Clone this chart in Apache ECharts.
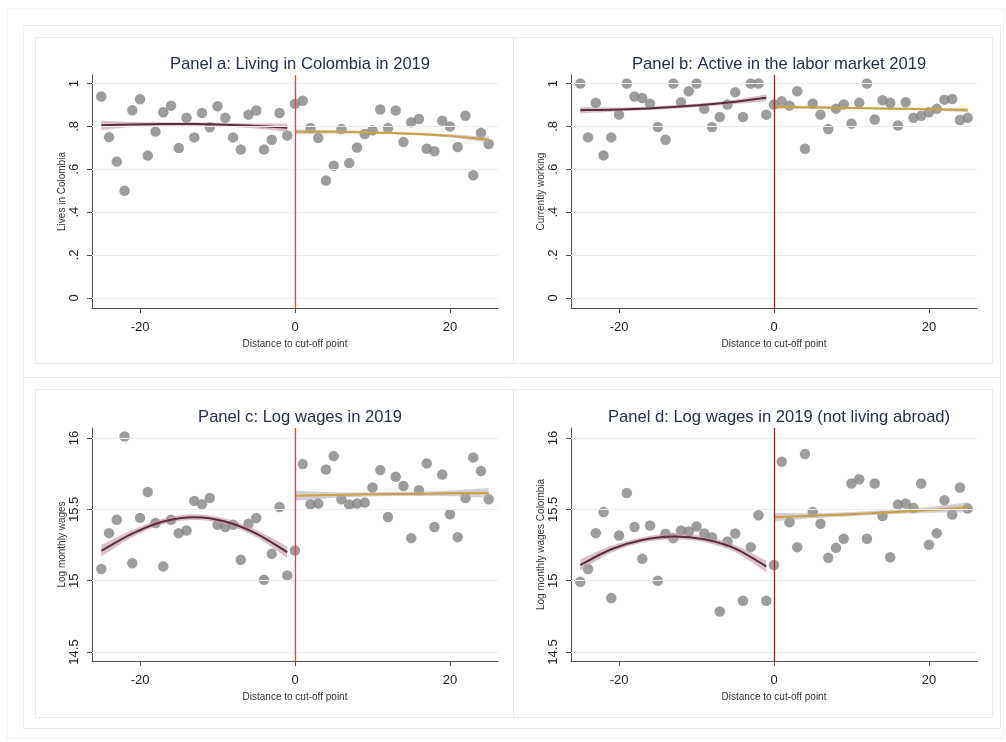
<!DOCTYPE html>
<html>
<head>
<meta charset="utf-8">
<script src="https://cdn.jsdelivr.net/npm/echarts@6/dist/echarts.min.js"></script>
<style>
  html, body { margin: 0; padding: 0; background: #ffffff; }
  #chart { width: 1006px; height: 742px; }
</style>
</head>
<body>
<div id="chart"></div>
<script>
// Distance to the cut-off point (bins)
const distance = [-25,-24,-23,-22,-21,-20,-19,-18,-17,-16,-15,-14,-13,-12,-11,-10,-9,-8,-7,-6,-5,-4,-3,-2,-1,
  0,1,2,3,4,5,6,7,8,9,10,11,12,13,14,15,16,17,18,19,20,21,22,23,24,25];

// Bin means
const livesInColombia = [0.94,0.75,0.636,0.50,0.875,0.927,0.664,0.776,0.866,0.897,0.699,0.84,0.749,0.863,0.796,0.894,0.84,0.749,0.692,0.855,0.874,0.692,0.738,0.863,0.758,
  0.906,0.92,0.793,0.746,0.548,0.617,0.788,0.629,0.702,0.765,0.782,0.879,0.793,0.874,0.727,0.819,0.835,0.696,0.684,0.827,0.80,0.704,0.85,0.572,0.77,0.718];
const currentlyWorking = [1.0,0.749,0.91,0.665,0.749,0.855,1.0,0.94,0.933,0.906,0.797,0.738,1.0,0.913,0.964,1.0,0.882,0.797,0.844,0.902,0.959,0.844,1.0,1.0,0.855,
  0.902,0.917,0.897,0.964,0.696,0.906,0.855,0.788,0.883,0.902,0.813,0.91,1.0,0.832,0.922,0.91,0.804,0.913,0.84,0.85,0.866,0.882,0.925,0.928,0.83,0.84];
const logWages = [15.082,15.333,15.427,16.01,15.122,15.44,15.622,15.404,15.10,15.427,15.333,15.352,15.559,15.535,15.58,15.392,15.376,15.392,15.146,15.399,15.439,15.007,15.188,15.516,15.037,
  15.211,15.817,15.535,15.54,15.779,15.873,15.57,15.533,15.54,15.547,15.653,15.775,15.446,15.728,15.664,15.298,15.634,15.822,15.376,15.744,15.465,15.305,15.58,15.864,15.768,15.57];
const logWagesColombia = [14.993,15.082,15.333,15.481,14.878,15.317,15.615,15.376,15.153,15.387,15.0,15.329,15.298,15.352,15.345,15.38,15.33,15.305,14.784,15.275,15.33,14.859,15.235,15.458,14.859,
  15.11,15.833,15.41,15.235,15.887,15.481,15.399,15.16,15.23,15.294,15.681,15.711,15.294,15.681,15.453,15.164,15.533,15.54,15.509,15.681,15.251,15.333,15.563,15.463,15.653,15.505];

// Quadratic fits with confidence bands, on each side of the cut-off
const fitXLeft = [-25,-21,-17,-13,-9,-5,-1];
const fitXRight = [0,5,10,15,20,25];

const fitLivesLeft = [0.805,0.809,0.811,0.811,0.808,0.802,0.794];
const ciLivesLeft = [0.022,0.012,0.008,0.008,0.008,0.012,0.02];
const fitLivesRight = [0.775,0.775,0.772,0.766,0.756,0.738];
const ciLivesRight = [0.012,0.008,0.006,0.006,0.008,0.014];

const fitWorkLeft = [0.876,0.878,0.883,0.891,0.901,0.915,0.934];
const ciWorkLeft = [0.015,0.01,0.008,0.008,0.008,0.01,0.016];
const fitWorkRight = [0.892,0.889,0.886,0.883,0.880,0.876];
const ciWorkRight = [0.01,0.006,0.005,0.005,0.006,0.01];

const fitWageLeft = [15.21,15.33,15.415,15.445,15.415,15.33,15.20];
const ciWageLeft = [0.04,0.025,0.02,0.02,0.02,0.025,0.04];
const fitWageRight = [15.595,15.60,15.605,15.608,15.612,15.615];
const ciWageRight = [0.035,0.02,0.015,0.015,0.02,0.035];

const fitWageColLeft = [15.11,15.22,15.285,15.31,15.29,15.225,15.10];
const ciWageColLeft = [0.04,0.025,0.02,0.02,0.02,0.025,0.04];
const fitWageColRight = [15.445,15.455,15.466,15.48,15.496,15.515];
const ciWageColRight = [0.03,0.018,0.015,0.015,0.02,0.035];

// Tick values and labels
const xTicks = [-20, 0, 20];
const xTickLabels = ['-20', '0', '20'];
const shareTicks = [0, 0.2, 0.4, 0.6, 0.8, 1];
const shareTickLabels = ['0', '.2', '.4', '.6', '.8', '1'];
const wageTicks = [14.5, 15, 15.5, 16];
const wageTickLabels = ['14.5', '15', '15.5', '16'];

const FONT = '"Liberation Sans", Arial, sans-serif';
const PLOT_W = 406, PLOT_H = 233;

const panels = [
  { title: 'Panel a: Living in Colombia in 2019', yName: 'Lives in Colombia', values: livesInColombia,
    ticks: shareTicks, labels: shareTickLabels, yMin: -0.047, yMax: 1.04, left: 92, top: 75, cut: '#ff3a3a',
    fitL: fitLivesLeft, ciL: ciLivesLeft, fitR: fitLivesRight, ciR: ciLivesRight },
  { title: 'Panel b: Active in the labor market 2019', yName: 'Currently working', values: currentlyWorking,
    ticks: shareTicks, labels: shareTickLabels, yMin: -0.047, yMax: 1.04, left: 571, top: 75, cut: '#c21818',
    fitL: fitWorkLeft, ciL: ciWorkLeft, fitR: fitWorkRight, ciR: ciWorkRight },
  { title: 'Panel c: Log wages in 2019', yName: 'Log monthly wages', values: logWages,
    ticks: wageTicks, labels: wageTickLabels, yMin: 14.437, yMax: 16.07, left: 92, top: 428, cut: '#ff3a3a',
    fitL: fitWageLeft, ciL: ciWageLeft, fitR: fitWageRight, ciR: ciWageRight },
  { title: 'Panel d: Log wages in 2019 (not living abroad)', yName: 'Log monthly wages Colombia', values: logWagesColombia,
    ticks: wageTicks, labels: wageTickLabels, yMin: 14.437, yMax: 16.07, left: 571, top: 428, cut: '#c21818',
    fitL: fitWageColLeft, ciL: ciWageColLeft, fitR: fitWageColRight, ciR: ciWageColRight }
];

const LEFT_LINE = '#5a2d3e', LEFT_BAND = 'rgba(190,150,162,0.6)';
const RIGHT_LINE = '#c9a23c', RIGHT_BAND = 'rgba(170,168,185,0.55)';

const option = {
  animation: false,
  backgroundColor: '#ffffff',
  title: [], grid: [], xAxis: [], yAxis: [], series: [],
  graphic: []
};

// Frames around the figure and around each panel
const frame = (x, y, w, h, c) => ({ type: 'rect', silent: true, z: -10,
  shape: { x: x + 0.5, y: y + 0.5, width: w, height: h }, style: { fill: null, stroke: c, lineWidth: 1 } });
option.graphic.push(frame(7, 8, 996, 730, '#f0f0f0'));
option.graphic.push(frame(23, 25, 977, 703, '#ececec'));
option.graphic.push({ type: 'line', silent: true, z: -10, shape: { x1: 23, y1: 377.5, x2: 1000, y2: 377.5 }, style: { stroke: '#ececec' } });
option.graphic.push(frame(35, 37, 478, 326, '#ebebeb'));
option.graphic.push(frame(513, 37, 479, 326, '#ebebeb'));
option.graphic.push(frame(35, 389, 478, 328, '#ebebeb'));
option.graphic.push(frame(513, 389, 479, 328, '#ebebeb'));

// Smooth curve through pixel points (Catmull-Rom as cubic Beziers)
function curveThrough(pts) {
  let d = '';
  for (let k = 0; k < pts.length - 1; k++) {
    const p0 = pts[k - 1] || pts[k], p1 = pts[k], p2 = pts[k + 1], p3 = pts[k + 2] || pts[k + 1];
    const c1 = [p1[0] + (p2[0] - p0[0]) / 6, p1[1] + (p2[1] - p0[1]) / 6];
    const c2 = [p2[0] - (p3[0] - p1[0]) / 6, p2[1] - (p3[1] - p1[1]) / 6];
    d += ' C' + c1[0] + ' ' + c1[1] + ' ' + c2[0] + ' ' + c2[1] + ' ' + p2[0] + ' ' + p2[1];
  }
  return d;
}

// Confidence band and fitted curve for one side of the cut-off
function addFit(i, xs, fit, ci, lineColor, bandColor) {
  option.series.push({
    type: 'custom', xAxisIndex: i, yAxisIndex: i, silent: true, z: 3,
    data: [[xs[0], fit[0]]],
    renderItem: (params, api) => {
      const upper = xs.map((x, k) => api.coord([x, fit[k] + ci[k]]));
      const lower = xs.map((x, k) => api.coord([x, fit[k] - ci[k]])).reverse();
      const mid = xs.map((x, k) => api.coord([x, fit[k]]));
      const band = 'M' + upper[0][0] + ' ' + upper[0][1] + curveThrough(upper) +
        ' L' + lower[0][0] + ' ' + lower[0][1] + curveThrough(lower) + ' Z';
      const line = 'M' + mid[0][0] + ' ' + mid[0][1] + curveThrough(mid);
      return { type: 'group', children: [
        { type: 'path', shape: { pathData: band }, style: { fill: bandColor, stroke: null } },
        { type: 'path', shape: { pathData: line }, style: { fill: null, stroke: lineColor, lineWidth: 2 } }
      ] };
    }
  });
}

panels.forEach((p, i) => {
  option.title.push({
    text: p.title, left: p.left + PLOT_W / 2, top: p.top - 24, textAlign: 'center',
    textStyle: { fontFamily: FONT, fontSize: 16.6, fontWeight: 'normal', color: '#27304a' }
  });
  option.grid.push({ left: p.left, top: p.top, width: PLOT_W, height: PLOT_H, containLabel: false });
  option.xAxis.push({
    gridIndex: i, type: 'value', min: -26.2, max: 26.2,
    name: 'Distance to cut-off point', nameLocation: 'middle', nameGap: 31,
    nameTextStyle: { fontFamily: FONT, fontSize: 10, color: '#333' },
    axisLine: { show: true, onZero: false, lineStyle: { color: '#505050', width: 1 } },
    axisTick: { show: true, length: 5, customValues: xTicks, lineStyle: { color: '#505050' } },
    axisLabel: { customValues: xTicks, margin: 13, fontFamily: FONT, fontSize: 13, color: '#222',
      formatter: v => xTickLabels[xTicks.indexOf(v)] },
    splitLine: { show: false }
  });
  option.yAxis.push({
    gridIndex: i, type: 'value', min: p.yMin, max: p.yMax,
    name: p.yName, nameLocation: 'middle', nameGap: 25,
    nameTextStyle: { fontFamily: FONT, fontSize: 10, color: '#333' },
    axisLine: { show: true, onZero: false, lineStyle: { color: '#505050', width: 1 } },
    axisTick: { show: true, length: 5, customValues: p.ticks, lineStyle: { color: '#505050' } },
    axisLabel: { customValues: p.ticks, rotate: 90, margin: 11, fontFamily: FONT, fontSize: 13, color: '#222',
      formatter: v => { const k = p.ticks.findIndex(t => Math.abs(t - v) < 1e-9); return k < 0 ? '' : p.labels[k]; } },
    splitLine: { show: false }
  });
  // Horizontal grid lines and the cut-off line
  option.series.push({
    type: 'line', xAxisIndex: i, yAxisIndex: i, data: [], silent: true, z: 1,
    markLine: {
      silent: true, symbol: 'none', label: { show: false },
      data: p.ticks.map(t => ({ yAxis: t, lineStyle: { color: '#eceeee', width: 1, type: 'solid' } }))
        .concat([{ xAxis: 0, lineStyle: { color: p.cut, width: 1.3, type: 'solid' } }])
    }
  });
  // Bin means
  option.series.push({
    type: 'scatter', xAxisIndex: i, yAxisIndex: i, z: 2, silent: true,
    symbol: 'circle', symbolSize: 10.5,
    itemStyle: { color: '#858585' },
    data: distance.map((d, k) => [d, p.values[k]])
  });
  addFit(i, fitXLeft, p.fitL, p.ciL, LEFT_LINE, LEFT_BAND);
  addFit(i, fitXRight, p.fitR, p.ciR, RIGHT_LINE, RIGHT_BAND);
});

const chart = echarts.init(document.getElementById('chart'), null, { renderer: 'canvas' });
chart.setOption(option);
</script>
</body>
</html>
